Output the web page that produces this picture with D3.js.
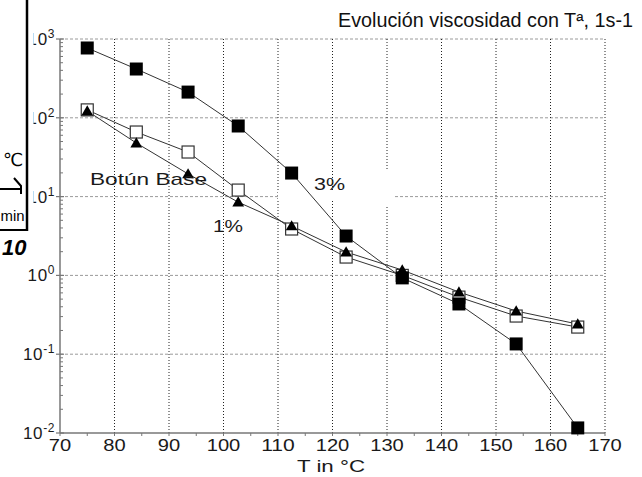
<!DOCTYPE html>
<html><head><meta charset="utf-8">
<script src="https://cdn.jsdelivr.net/npm/d3@7/dist/d3.min.js"></script>
<style>
html,body{margin:0;padding:0;background:#fff;}
svg{display:block;font-family:"Liberation Sans",Arial,sans-serif;}
</style></head>
<body>
<svg id="c" width="642" height="477"></svg>
<script>
// ---- data ----
const temps = [75, 84, 93.5, 102.7, 112.5, 122.5, 132.8, 143.2, 153.7, 165];
const pct3  = [769, 416, 212, 78.7, 19.9, 3.16, 0.93, 0.434, 0.135, 0.0116];
const pct1  = [126, 66, 36.8, 12.1, 3.88, 1.71, 1.0, 0.53, 0.305, 0.221];
const base  = [122, 47.9, 19.4, 8.5, 4.24, 1.98, 1.17, 0.615, 0.353, 0.241];
const xTicks = [70, 80, 90, 100, 110, 120, 130, 140, 150, 160, 170];
const yExps  = [-2, -1, 0, 1, 2, 3];
const title = "Evolución viscosidad con Tª, 1s-1";
const xTitle = "T in °C";

const svg = d3.select("#c");
const x = d3.scaleLinear().domain([70,170]).range([60,605]);
const y = d3.scaleLog().domain([0.01,1000]).range([433,39]);

// grid: horizontal dashed at decades
const g = svg.append("g");
yExps.filter(e=>e>-2).forEach(e=>{
  g.append("line").attr("x1",x(70)).attr("x2",x(170))
   .attr("y1",y(Math.pow(10,e))).attr("y2",y(Math.pow(10,e)))
   .attr("stroke","#9a9a9a").attr("stroke-width",1).attr("stroke-dasharray","3,2");
});
// vertical dotted
xTicks.filter(t=>t>70).forEach(t=>{
  g.append("line").attr("x1",x(t)).attr("x2",x(t))
   .attr("y1",y(1000)).attr("y2",y(0.01))
   .attr("stroke","#222").attr("stroke-width",1).attr("stroke-dasharray","1,2");
});

// white patch behind 3% label
svg.append("rect").attr("x",340).attr("y",170).attr("width",55).attr("height",37).attr("fill","#fff");
svg.append("rect").attr("x",278).attr("y",190).attr("width",64).attr("height",10).attr("fill","#fff");

// axes
const ax = svg.append("g").attr("stroke","#777").attr("stroke-width",1.5);
ax.append("line").attr("x1",x(70)).attr("x2",x(70)).attr("y1",y(1000)).attr("y2",y(0.01));
ax.append("line").attr("x1",x(70)).attr("x2",x(170)).attr("y1",y(0.01)).attr("y2",y(0.01));
// y ticks
yExps.forEach(e=>{
  const v = Math.pow(10,e);
  ax.append("line").attr("x1",x(70)-4).attr("x2",x(70)+4).attr("y1",y(v)).attr("y2",y(v)).attr("stroke-width",1.2);
  if(e<3){
    for(let k=2;k<=9;k++){
      ax.append("line").attr("x1",x(70)).attr("x2",x(70)+3).attr("y1",y(k*v)).attr("y2",y(k*v)).attr("stroke-width",1);
    }
  }
});
// x ticks
xTicks.forEach(t=>{
  ax.append("line").attr("x1",x(t)).attr("x2",x(t)).attr("y1",y(0.01)).attr("y2",y(0.01)+3).attr("stroke-width",1);
  if(t<170) ax.append("line").attr("x1",x(t+5)).attr("x2",x(t+5)).attr("y1",y(0.01)).attr("y2",y(0.01)+3).attr("stroke-width",1);
});

// tick labels
svg.append("g").selectAll("text").data(xTicks).join("text")
  .attr("x",d=>x(d)-String(d).length*5.6).attr("y",451)
  .attr("font-size",17).attr("textLength",d=>String(d).length*11.2)
  .attr("lengthAdjust","spacingAndGlyphs").attr("fill","#1a1a1a").text(d=>d);
const yl = svg.append("g").selectAll("text").data(yExps).join("text")
  .attr("x",55).attr("y",d=>y(Math.pow(10,d))+6).attr("text-anchor","end")
  .attr("font-size",17).attr("letter-spacing",0.6).attr("fill","#1a1a1a");
yl.append("tspan").text("10");
yl.append("tspan").attr("font-size",12).attr("dy",-7).text(d=>String(d));

// series lines
const line = d3.line().x(d=>x(d[0])).y(d=>y(d[1]));
[pct1, base, pct3].forEach(s=>{
  svg.append("path").attr("d",line(temps.map((t,i)=>[t,s[i]])))
    .attr("fill","none").attr("stroke","#333").attr("stroke-width",1);
});
// markers: open squares, triangles, filled squares
svg.append("g").selectAll("rect").data(temps.map((t,i)=>[t,pct1[i]])).join("rect")
  .attr("x",d=>x(d[0])-6).attr("y",d=>y(d[1])-6).attr("width",12).attr("height",12)
  .attr("fill","#fff").attr("stroke","#333").attr("stroke-width",1.2);
const tri = d3.symbol().type(d3.symbolTriangle).size(60);
svg.append("g").selectAll("path").data(temps.map((t,i)=>[t,base[i]])).join("path")
  .attr("d",tri).attr("transform",d=>`translate(${x(d[0])},${y(d[1])+1})`).attr("fill","#000");
svg.append("g").selectAll("rect").data(temps.map((t,i)=>[t,pct3[i]])).join("rect")
  .attr("x",d=>x(d[0])-6.5).attr("y",d=>y(d[1])-6.5).attr("width",13).attr("height",13)
  .attr("fill","#000");

// labels
function label(txt, x0, y0, len, fs){
  return svg.append("text").attr("x",x0).attr("y",y0).attr("font-size",fs).attr("textLength",len)
    .attr("lengthAdjust","spacingAndGlyphs").attr("fill","#1a1a1a").text(txt);
}
label("Botún Base", 90, 185, 117, 17);
label("1%", 213, 232, 30, 17);
label("3%", 314, 190, 31, 17);

// title & axis title
label(title, 338, 27, 295, 19.5).attr("fill","#111");
label(xTitle, 297, 472, 68, 17);

// hide the leading "1" of upper y labels (covered by neighbouring figure)
svg.append("rect").attr("x",27).attr("y",0).attr("width",6.5).attr("height",229).attr("fill","#fff");

// clipped neighbouring figure at the left edge
const lb = svg.append("g");
lb.append("rect").attr("x",-5).attr("y",-5).attr("width",32).attr("height",235).attr("fill","#fff");
lb.append("line").attr("x1",27).attr("x2",27).attr("y1",0).attr("y2",231).attr("stroke","#000").attr("stroke-width",2.5);
lb.append("line").attr("x1",0).attr("x2",28).attr("y1",230).attr("y2",230).attr("stroke","#000").attr("stroke-width",2);
lb.append("text").attr("x",3).attr("y",166).attr("font-size",18).attr("font-family","DejaVu Sans").attr("fill","#000").text("℃");
lb.append("path").attr("d","M0,189H21M14,178L21,186V194").attr("fill","none").attr("stroke","#000").attr("stroke-width",2);
lb.append("text").attr("x",0.5).attr("y",221).attr("font-size",15).attr("textLength",24)
  .attr("lengthAdjust","spacingAndGlyphs").attr("fill","#000").text("min");
lb.append("text").attr("x",2).attr("y",255).attr("font-size",22).attr("font-weight","bold").attr("font-style","italic").attr("fill","#000").text("10");
</script>
</body></html>
